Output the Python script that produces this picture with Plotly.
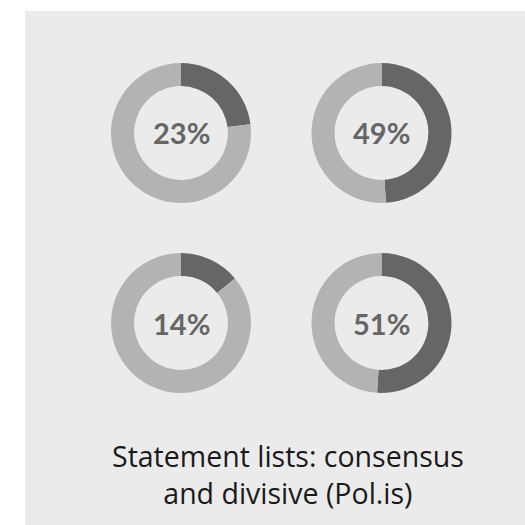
import plotly.graph_objects as go

shares = [23, 49, 14, 51]
labels = ["23%", "49%", "14%", "51%"]
segments = ["Share", "Rest"]
title_lines = ["Statement lists: consensus", "and divisive (Pol.is)"]

W = H = 525
centers = [(181, 133), (381.5, 133), (181, 323), (381.5, 323)]
R = 70

DARK = "#666666"
LIGHT = "#b3b3b3"
BG = "#ebebeb"

fig = go.Figure()
for (cx, cy), v, lab in zip(centers, shares, labels):
    x0, x1 = (cx - R) / W, (cx + R) / W
    y0, y1 = (H - cy - R) / H, (H - cy + R) / H
    fig.add_trace(go.Pie(
        values=[v, 100 - v], labels=segments, hole=0.67,
        sort=False, direction="clockwise", rotation=0,
        marker=dict(colors=[DARK, LIGHT], line=dict(width=0)),
        textinfo="none", hoverinfo="skip", showlegend=False,
        domain=dict(x=[x0, x1], y=[y0, y1]),
    ))
    fig.add_annotation(x=cx / W, y=(H - cy) / H, xref="paper", yref="paper",
                       text=f"<b>{lab}</b>", showarrow=False,
                       font=dict(family="Lato", size=29, color="#666666"),
                       xanchor="center", yanchor="middle")

fig.add_annotation(x=288 / W, y=(H - 474.5) / H, xref="paper", yref="paper",
                   text="<br>".join(title_lines), showarrow=False,
                   font=dict(family="Open Sans", size=28.5, color="#1a1a1a"),
                   xanchor="center", yanchor="middle", align="center")

fig.add_shape(type="rect", xref="paper", yref="paper",
              x0=25 / W, x1=1.0, y0=0.0, y1=(H - 11) / H,
              fillcolor=BG, line=dict(width=0), layer="below")

fig.update_layout(width=W, height=H, margin=dict(l=0, r=0, t=0, b=0),
                  paper_bgcolor="white", plot_bgcolor="white")
fig.write_html("out.html")
